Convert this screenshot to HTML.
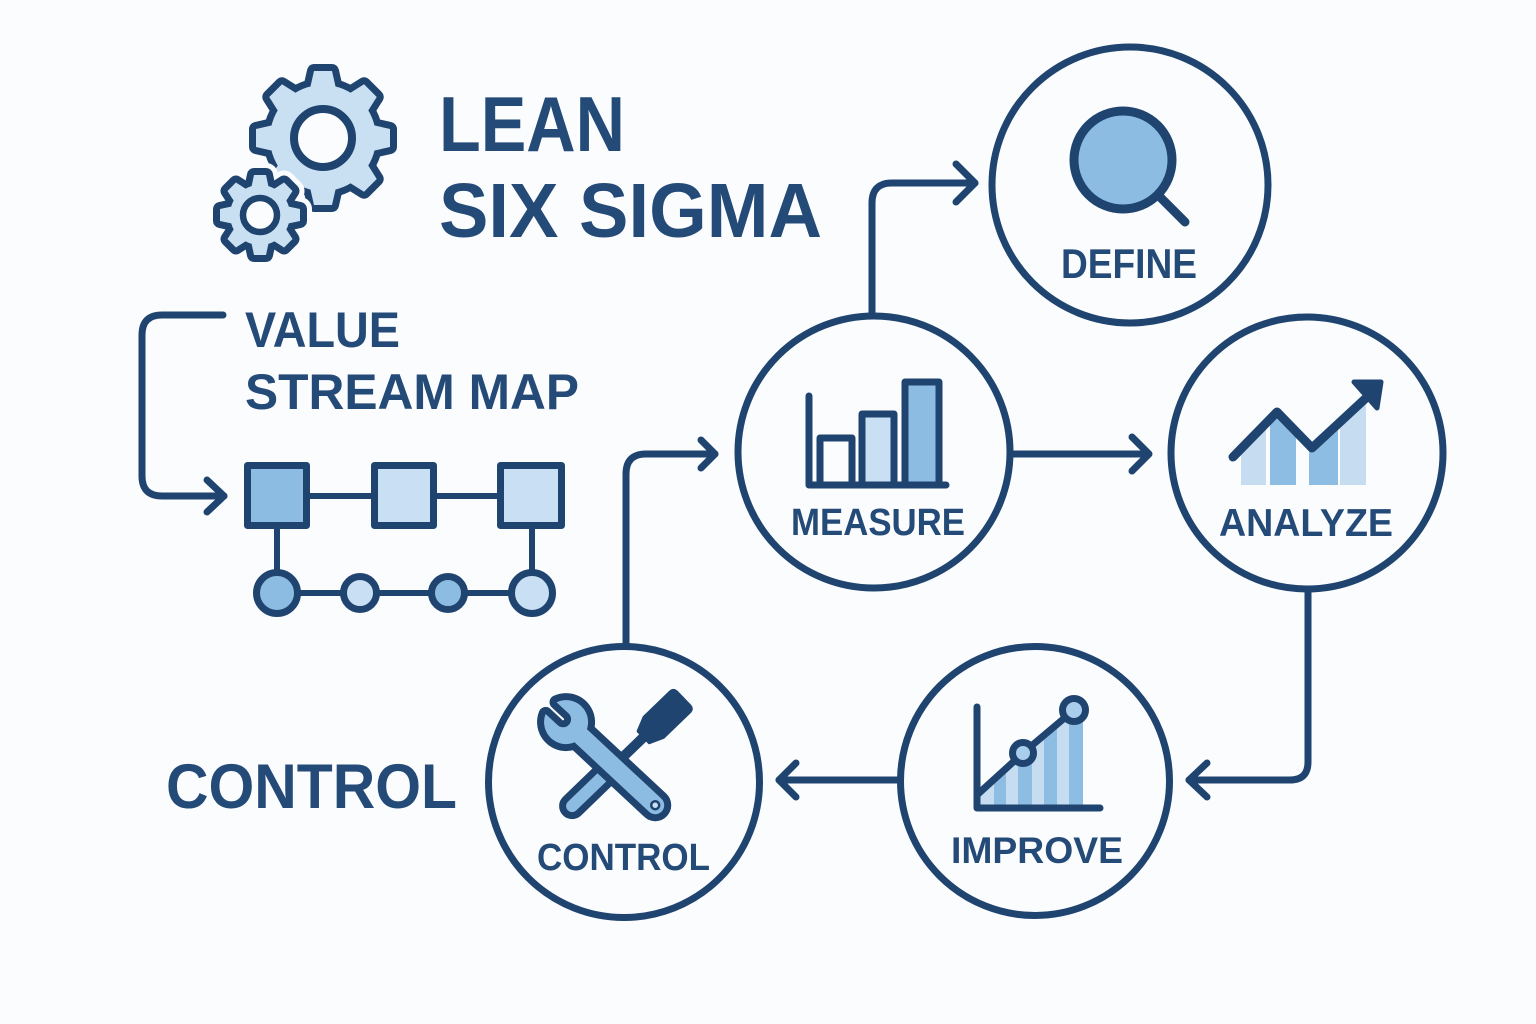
<!DOCTYPE html>
<html>
<head>
<meta charset="utf-8">
<style>
html,body{margin:0;padding:0;background:#fbfcfe;}
svg{display:block;}
text{font-family:"Liberation Sans","DejaVu Sans",sans-serif;font-weight:bold;fill:#244a78;}
</style>
</head>
<body>
<svg width="1536" height="1024" viewBox="0 0 1536 1024" xmlns="http://www.w3.org/2000/svg">
<rect width="1536" height="1024" fill="#fbfcfe"/>
<defs>
  <g id="bigGear">
    <circle cx="0" cy="0" r="53"/>
    <polygon points="-14,-45 14,-45 9,-67 -9,-67" transform="rotate(0)"/>
    <polygon points="-14,-45 14,-45 9,-67 -9,-67" transform="rotate(45)"/>
    <polygon points="-14,-45 14,-45 9,-67 -9,-67" transform="rotate(90)"/>
    <polygon points="-14,-45 14,-45 9,-67 -9,-67" transform="rotate(135)"/>
    <polygon points="-14,-45 14,-45 9,-67 -9,-67" transform="rotate(180)"/>
    <polygon points="-14,-45 14,-45 9,-67 -9,-67" transform="rotate(225)"/>
    <polygon points="-14,-45 14,-45 9,-67 -9,-67" transform="rotate(270)"/>
    <polygon points="-14,-45 14,-45 9,-67 -9,-67" transform="rotate(315)"/>
  </g>
  <g id="smallGear">
    <circle cx="0" cy="0" r="30"/>
    <polygon points="-9,-26 9,-26 6,-40 -6,-40" transform="rotate(0)"/>
    <polygon points="-9,-26 9,-26 6,-40 -6,-40" transform="rotate(45)"/>
    <polygon points="-9,-26 9,-26 6,-40 -6,-40" transform="rotate(90)"/>
    <polygon points="-9,-26 9,-26 6,-40 -6,-40" transform="rotate(135)"/>
    <polygon points="-9,-26 9,-26 6,-40 -6,-40" transform="rotate(180)"/>
    <polygon points="-9,-26 9,-26 6,-40 -6,-40" transform="rotate(225)"/>
    <polygon points="-9,-26 9,-26 6,-40 -6,-40" transform="rotate(270)"/>
    <polygon points="-9,-26 9,-26 6,-40 -6,-40" transform="rotate(315)"/>
  </g>
  <clipPath id="impClip">
    <polygon points="979,806 979,794 1023,755 1074,712 1083,712 1083,806"/>
  </clipPath>
</defs>

<!-- Gears -->
<g transform="translate(323,138)">
  <use href="#bigGear" fill="#1f4470" stroke="#1f4470" stroke-width="14" stroke-linejoin="round"/>
  <use href="#bigGear" fill="#c9dff2" stroke="none"/>
  <circle cx="0" cy="0" r="29" fill="#fbfcfe" stroke="#1f4470" stroke-width="8"/>
</g>
<g transform="translate(260,215)">
  <use href="#smallGear" fill="#fbfcfe" stroke="#fbfcfe" stroke-width="24" stroke-linejoin="round"/>
  <use href="#smallGear" fill="#1f4470" stroke="#1f4470" stroke-width="14" stroke-linejoin="round"/>
  <use href="#smallGear" fill="#c9dff2" stroke="none"/>
  <circle cx="0" cy="0" r="17" fill="#fbfcfe" stroke="#1f4470" stroke-width="6.5"/>
</g>

<!-- Title -->
<text x="439" y="151" font-size="78" textLength="186" lengthAdjust="spacingAndGlyphs">LEAN</text>
<text x="439" y="237" font-size="77" textLength="383" lengthAdjust="spacingAndGlyphs">SIX SIGMA</text>

<!-- Value stream map -->
<text x="245" y="347" font-size="50" textLength="155" lengthAdjust="spacingAndGlyphs">VALUE</text>
<text x="245" y="409" font-size="50" textLength="334" lengthAdjust="spacingAndGlyphs">STREAM MAP</text>

<g fill="none" stroke="#1f4470" stroke-width="7" stroke-linecap="round" stroke-linejoin="round">
  <path d="M223,315 H162 Q142,315 142,335 V476 Q142,496 162,496 H224"/>
  <path d="M207,480 L224,496 L207,512"/>
</g>

<g stroke="#1f4470" stroke-width="6">
  <line x1="310" y1="496" x2="371" y2="496"/>
  <line x1="437" y1="496" x2="497" y2="496"/>
  <line x1="277" y1="529" x2="277" y2="593"/>
  <line x1="532" y1="529" x2="532" y2="593"/>
  <line x1="277" y1="593" x2="532" y2="593"/>
</g>
<g stroke="#1f4470" stroke-width="7" stroke-linejoin="round">
  <rect x="247.5" y="465.5" width="59" height="60" fill="#8dbce3"/>
  <rect x="374.5" y="465.5" width="59" height="60" fill="#c9dff3"/>
  <rect x="500.5" y="465.5" width="61" height="60" fill="#c9dff3"/>
  <circle cx="277" cy="593" r="20.5" fill="#8dbce3"/>
  <circle cx="360" cy="593" r="16.5" fill="#c9dff3"/>
  <circle cx="448" cy="593" r="16.5" fill="#8dbce3"/>
  <circle cx="532" cy="593" r="20.5" fill="#c9dff3"/>
</g>

<!-- Big CONTROL label -->
<text x="166" y="808" font-size="63" textLength="291" lengthAdjust="spacingAndGlyphs">CONTROL</text>

<!-- Connectors -->
<g fill="none" stroke="#1f4470" stroke-width="7" stroke-linecap="round" stroke-linejoin="round">
  <path d="M872,316 V203 Q872,183 892,183 H975"/>
  <path d="M956,164 L975,183 L956,202"/>
  <path d="M626,646 V474 Q626,454 646,454 H715"/>
  <path d="M701,440 L715,454 L701,468"/>
  <path d="M1010,454 H1148"/>
  <path d="M1132,437 L1149,454 L1132,471"/>
  <path d="M1308,590 V762 Q1308,780 1290,780 H1189"/>
  <path d="M1207,763 L1189,780 L1207,797"/>
  <path d="M898,780 H779"/>
  <path d="M796,763 L779,780 L796,797"/>
</g>

<!-- Circles -->
<g fill="#fbfcfe" stroke="#1f4470" stroke-width="7">
  <circle cx="1130" cy="185" r="138"/>
  <circle cx="874" cy="452" r="136"/>
  <circle cx="1307" cy="453" r="136"/>
  <circle cx="1035" cy="781" r="134.5"/>
  <circle cx="624" cy="782" r="135.5"/>
</g>

<!-- DEFINE icon -->
<circle cx="1123" cy="160" r="49" fill="#8dbce3" stroke="#1f4470" stroke-width="9"/>
<line x1="1160" y1="197" x2="1185" y2="222" stroke="#1f4470" stroke-width="9" stroke-linecap="round"/>
<text x="1061" y="278" font-size="42" textLength="136" lengthAdjust="spacingAndGlyphs">DEFINE</text>

<!-- MEASURE icon -->
<g stroke="#1f4470" stroke-width="7" stroke-linejoin="round">
  <rect x="820" y="438" width="32" height="47" fill="#fbfcfe"/>
  <rect x="862" y="414" width="32" height="71" fill="#c9dff3"/>
  <rect x="905" y="382" width="34" height="103" fill="#8dbce3"/>
</g>
<path d="M809,396 V485 H946" fill="none" stroke="#1f4470" stroke-width="7" stroke-linecap="round" stroke-linejoin="round"/>
<text x="791" y="535" font-size="38" textLength="174" lengthAdjust="spacingAndGlyphs">MEASURE</text>

<!-- ANALYZE icon -->
<polygon points="1241,449 1266,423 1266,485 1241,485" fill="#c5dcf1"/>
<polygon points="1270,419 1277,412 1296,431 1296,485 1270,485" fill="#8ebde3"/>
<polygon points="1309,445 1312,448 1338,427 1338,485 1309,485" fill="#8ebde3"/>
<polygon points="1340,426 1366,404 1366,485 1340,485" fill="#c5dcf1"/>
<path d="M1233,457 L1277,412 L1312,448 L1366,398" fill="none" stroke="#1f4470" stroke-width="9" stroke-linecap="round" stroke-linejoin="round"/>
<polygon points="1354,382 1381,382 1377,408" fill="#1f4470" stroke="#1f4470" stroke-width="5" stroke-linejoin="round"/>
<text x="1219" y="536" font-size="39" textLength="174" lengthAdjust="spacingAndGlyphs">ANALYZE</text>

<!-- IMPROVE icon -->
<g clip-path="url(#impClip)">
  <rect x="979" y="700" width="15" height="106" fill="#c5dcf1"/>
  <rect x="994" y="700" width="12" height="106" fill="#8ebde3"/>
  <rect x="1006" y="700" width="12" height="106" fill="#c5dcf1"/>
  <rect x="1018" y="700" width="14" height="106" fill="#8ebde3"/>
  <rect x="1032" y="700" width="12" height="106" fill="#c5dcf1"/>
  <rect x="1044" y="700" width="13" height="106" fill="#8ebde3"/>
  <rect x="1057" y="700" width="12" height="106" fill="#c5dcf1"/>
  <rect x="1069" y="700" width="14" height="106" fill="#8ebde3"/>
</g>
<path d="M977,707 V808 H1100" fill="none" stroke="#1f4470" stroke-width="7" stroke-linecap="round" stroke-linejoin="round"/>
<path d="M978,794 L1023,753 L1074,710" fill="none" stroke="#1f4470" stroke-width="7" stroke-linecap="round"/>
<circle cx="1023" cy="753" r="10.5" fill="#a9cdec" stroke="#1f4470" stroke-width="7"/>
<circle cx="1074" cy="710" r="11.5" fill="#a9cdec" stroke="#1f4470" stroke-width="7"/>
<text x="951" y="863" font-size="37" textLength="172" lengthAdjust="spacingAndGlyphs">IMPROVE</text>

<!-- CONTROL icon: screwdriver -->
<g transform="translate(566,812) rotate(-44)">
  <rect x="55" y="-5" width="62" height="10" fill="#1f4470"/>
  <path d="M108,-8 L122,-14 L158,-14 Q163,-14 163,-9 L163,9 Q163,14 158,14 L122,14 L108,8 Z" fill="#1f4470" stroke="#1f4470" stroke-width="3" stroke-linejoin="round"/>
  <rect x="-1" y="-9.5" width="66" height="19" rx="9.5" fill="#8dbce3" stroke="#1f4470" stroke-width="7"/>
</g>
<!-- wrench -->
<g transform="translate(566,722) rotate(43)">
  <g fill="#1f4470" stroke="#1f4470" stroke-width="14" stroke-linejoin="round">
    <rect x="12" y="-9" width="119" height="18" rx="9"/>
    <path d="M-20.4,-8 L-4,-8 A8 8 0 0 1 -4,8 L-20.4,8 A22 22 0 1 0 -20.4,-8 Z"/>
  </g>
  <g fill="#8dbce3" stroke="none">
    <rect x="12" y="-9" width="119" height="18" rx="9"/>
    <path d="M-20.4,-8 L-4,-8 A8 8 0 0 1 -4,8 L-20.4,8 A22 22 0 1 0 -20.4,-8 Z"/>
  </g>
  <circle cx="122" cy="0" r="4" fill="#c9dff3" stroke="#1f4470" stroke-width="2.5"/>
</g>
<text x="537" y="870" font-size="38" textLength="173" lengthAdjust="spacingAndGlyphs">CONTROL</text>
</svg>
</body>
</html>
